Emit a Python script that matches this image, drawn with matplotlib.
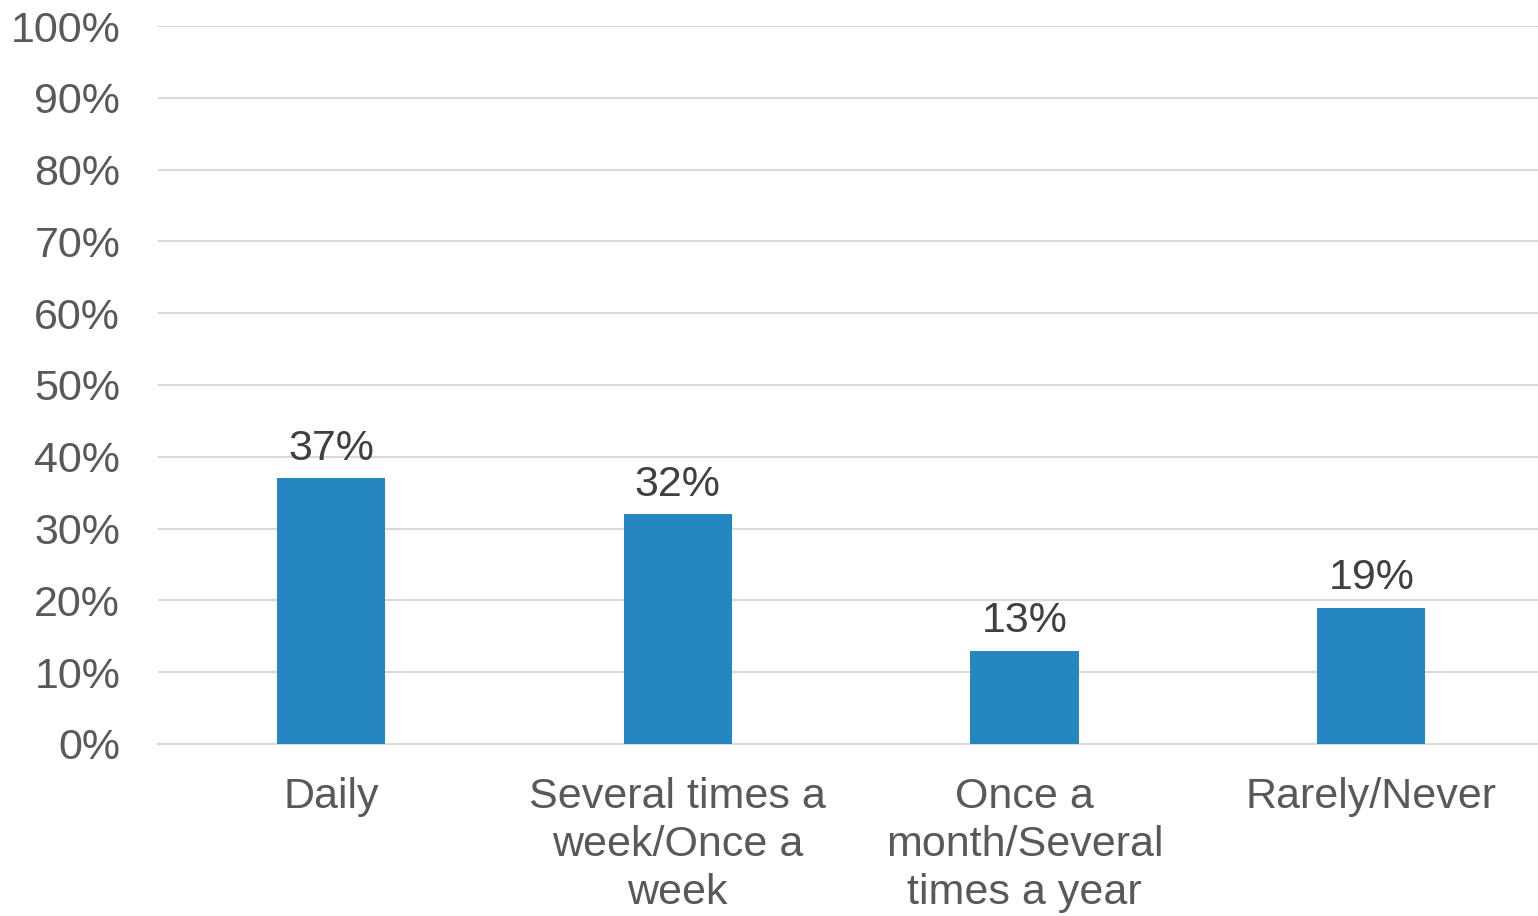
import numpy as np
import matplotlib
matplotlib.use("Agg")
import matplotlib.pyplot as plt

plt.rcParams['font.family'] = ['Liberation Sans', 'DejaVu Sans']

categories = ["Daily", "Several times a\nweek/Once a\nweek", "Once a\nmonth/Several\ntimes a year", "Rarely/Never"]
values = [37, 32, 13, 19]
yticks = [0, 10, 20, 30, 40, 50, 60, 70, 80, 90, 100]

fig = plt.figure(figsize=(15.38, 9.16), dpi=100)
ax = fig.add_axes([0.1025, 0.1878, 0.9018, 0.7838])

x = np.arange(len(categories))
bars = ax.bar(x, values, width=0.312, color='#2586C1', zorder=3)

for xi, v in zip(x, values):
    ax.text(xi, v + 1.3, f"{v}%", ha='center', va='bottom', fontsize=31, color='#404040')

ax.set_xlim(-0.5, 3.5)
ax.set_ylim(0, 100)
ax.set_yticks(yticks)
ax.set_yticklabels([f"{t}%" for t in yticks])
ax.grid(axis='y', color='#D9D9D9', linewidth=1.5, zorder=0)
ax.set_xticks(x)
ax.set_xticklabels(categories, linespacing=1.25)
ax.tick_params(axis='both', length=0, labelsize=31, labelcolor='#595959')
ax.tick_params(axis='y', pad=27)
ax.tick_params(axis='x', pad=24)
for side in ['top', 'right', 'left']:
    ax.spines[side].set_visible(False)
ax.spines['bottom'].set_color('#D9D9D9')
ax.spines['bottom'].set_linewidth(1.5)

fig.savefig("out.png", dpi=100)
